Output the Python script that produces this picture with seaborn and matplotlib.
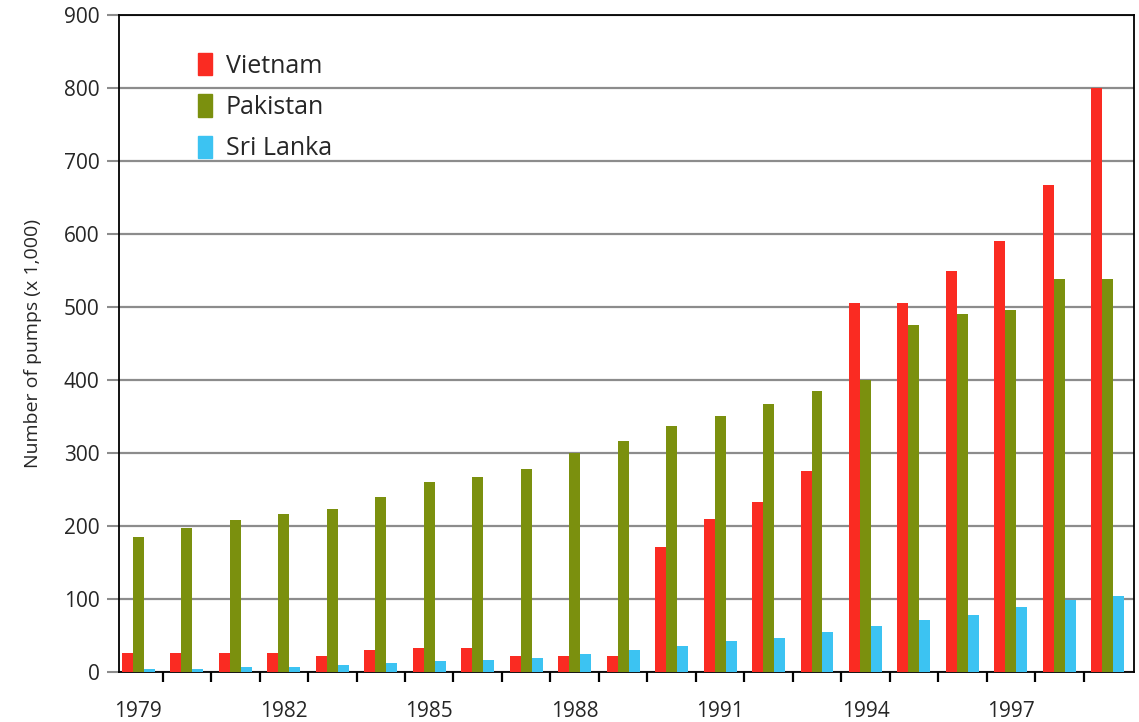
import numpy as np
import pandas as pd
import matplotlib
matplotlib.use("Agg")
import matplotlib.pyplot as plt
import seaborn as sns
from matplotlib.ticker import FixedLocator

years = list(range(1979, 2000))
vietnam = [26, 26, 26, 26, 22, 30, 33, 33, 22, 22, 22, 171, 210, 233, 276,
           505, 505, 550, 591, 667, 800]
pakistan = [185, 198, 208, 217, 224, 240, 260, 267, 278, 300, 317, 337, 351,
            367, 385, 400, 475, 491, 496, 539, 539]
sri_lanka = [5, 5, 7, 7, 10, 13, 15, 17, 20, 25, 30, 36, 43, 47, 55, 64, 72,
             79, 89, 99, 104]
countries = ["Vietnam", "Pakistan", "Sri Lanka"]
colors = ["#fa2b22", "#7b900e", "#3cc3f2"]
y_ticks = list(range(0, 1000, 100))
label_years = list(range(1979, 1998, 3))

df = pd.DataFrame({
    "year": years * 3,
    "country": np.repeat(countries, len(years)),
    "pumps": vietnam + pakistan + sri_lanka,
})

sns.set_style("white")
plt.rcParams["font.family"] = ["Open Sans", "DejaVu Sans"]

fig = plt.figure(figsize=(11.39, 7.22), dpi=100)
ax = fig.add_axes([119 / 1139, 1 - 672.3 / 722, 1015 / 1139, 657.3 / 722])

sns.barplot(data=df, x="year", y="pumps", hue="country", palette=colors,
            width=0.68, saturation=1, linewidth=0, ax=ax, legend=False,
            zorder=3)

ax.set_ylim(0, 900)
ax.set_xlim(-0.40, 20.54)
ax.set_yticks(y_ticks)
ax.yaxis.grid(True, color="#8c8c8c", lw=1.6, zorder=0)
ax.set_axisbelow(True)

# year labels every third year, tick marks between groups
ax.set_xticks([years.index(y) for y in label_years])
ax.set_xticklabels([str(y) for y in label_years])
ax.xaxis.set_minor_locator(FixedLocator(np.arange(0.5, 20, 1)))
ax.tick_params(axis="x", which="major", length=0, pad=21, labelsize=15)
ax.tick_params(axis="x", which="minor", length=7, width=1.6, color="black",
               bottom=True)
ax.tick_params(axis="y", length=9, width=1.5, color="#8c8c8c", pad=5,
               labelsize=15, left=True)

for side in ["left", "right", "top", "bottom"]:
    ax.spines[side].set_visible(True)
    ax.spines[side].set_color("black")
    ax.spines[side].set_linewidth(1.3)

ax.set_xlabel("")
ax.set_ylabel("Number of pumps (x 1,000)", fontsize=14, labelpad=16)

handles = [plt.Rectangle((0, 0), 1, 1, color=c) for c in colors]
fig.legend(handles, countries, loc="upper left",
           bbox_to_anchor=(198 / 1139, 1 - 53 / 722), frameon=False,
           fontsize=18, handlelength=0.56, handleheight=1.0,
           handletextpad=0.55, labelspacing=0.62, borderpad=0,
           borderaxespad=0)

fig.savefig("out.png", dpi=100)
